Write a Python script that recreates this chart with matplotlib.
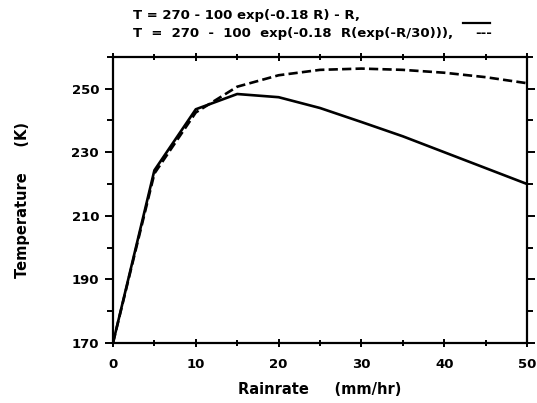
import matplotlib
matplotlib.use('Agg')
import matplotlib.pyplot as plt
from matplotlib.lines import Line2D
from matplotlib.ticker import MultipleLocator

plt.rcParams['font.family'] = ['DejaVu Sans']
plt.rcParams['font.weight'] = 'bold'

# rain rate (mm/hr) and temperature (K)
rainrate = [0, 5, 10, 15, 20, 25, 30, 35, 40, 45, 50]
temp_solid = [170, 224.3, 243.5, 248.3, 247.3, 243.9, 239.5, 235.0, 230.0, 225.0, 220.0]
temp_dashed = [170, 223.3, 242.5, 250.6, 254.2, 255.9, 256.3, 255.9, 255.0, 253.6, 251.7]

fig = plt.figure(figsize=(5.37, 4.03), dpi=100)
ax = fig.add_axes([0.2104, 0.149, 0.771, 0.71])

ax.plot(rainrate, temp_solid, color='black', lw=1.9, solid_joinstyle='round')
ax.plot(rainrate, temp_dashed, color='black', lw=1.9, ls=(0, (3.5, 1.6)))

ax.set_xlim(0, 50)
ax.set_ylim(170, 260)
ax.set_xticks([0, 10, 20, 30, 40, 50])
ax.set_yticks([170, 190, 210, 230, 250])
ax.xaxis.set_minor_locator(MultipleLocator(5))
ax.yaxis.set_minor_locator(MultipleLocator(10))

for s in ax.spines.values():
    s.set_linewidth(1.6)

ax.tick_params(which='both', top=True, right=True, width=1.4, labelsize=9.5)
ax.tick_params(which='major', length=6)
ax.tick_params(which='minor', length=4)
ax.tick_params(axis='x', which='both', direction='inout', pad=8)
ax.tick_params(axis='y', which='both', direction='out', pad=4)

ax.set_xlabel('Rainrate     (mm/hr)', fontsize=10.5, fontweight='bold', labelpad=8)
ax.set_ylabel('Temperature     (K)', fontsize=10.5, fontweight='bold', labelpad=30)

fig.text(0.248, 0.952, 'T = 270 - 100 exp(-0.18 R) - R,', fontsize=9.5, fontweight='bold')
fig.text(0.248, 0.907, 'T  =  270  -  100  exp(-0.18  R(exp(-R/30))),', fontsize=9.5, fontweight='bold')
fig.text(0.885, 0.907, '---', fontsize=9.5, fontweight='bold')
fig.add_artist(Line2D([0.862, 0.913], [0.943, 0.943], transform=fig.transFigure,
                      color='black', lw=1.6))

fig.savefig('out.png', dpi=100)
